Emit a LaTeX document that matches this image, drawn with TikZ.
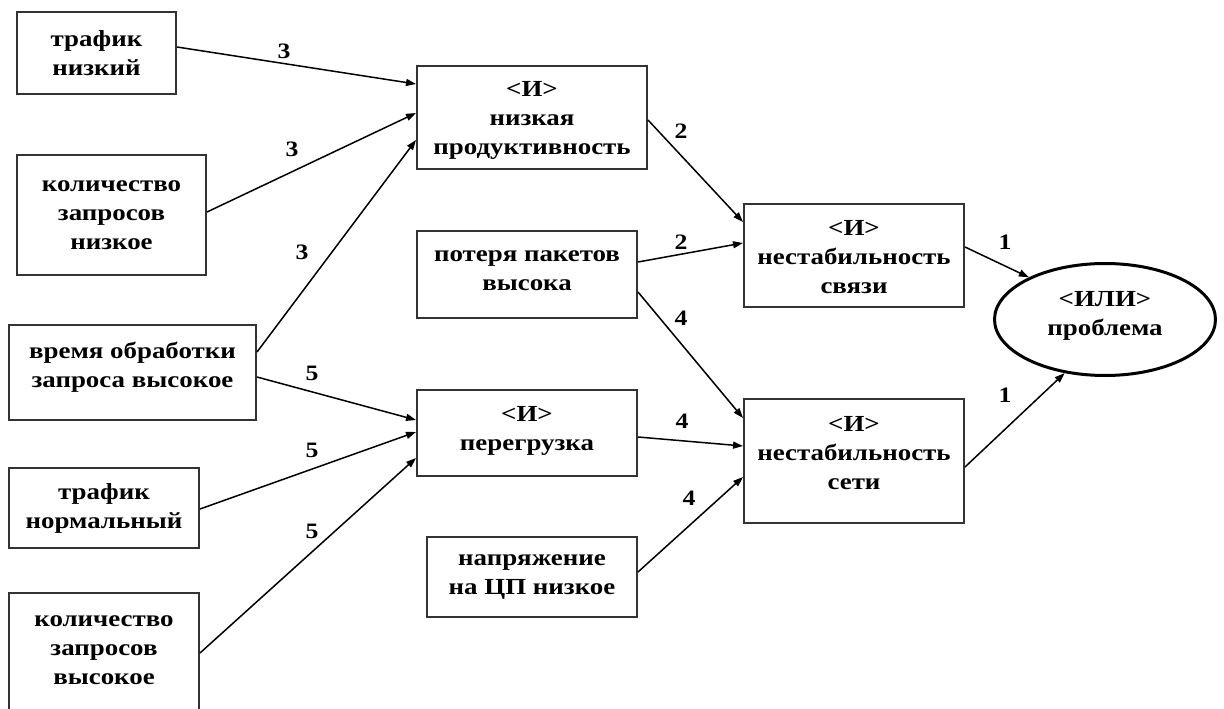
\documentclass[tikz,border=0pt]{standalone}
\usepackage{fontspec}
\setmainfont{Liberation Serif}[FakeStretch=1.17]
\usetikzlibrary{arrows.meta,shapes.geometric}
\begin{document}
\begin{tikzpicture}[x=1pt,y=-1pt,
  box/.style={draw=black!80, line width=2pt, inner sep=0pt},
  wh/.style 2 args={minimum width=#1pt, minimum height=#2pt},
  txt/.style={align=center, inner sep=0pt, font=\fontsize{23}{29}\selectfont\bfseries},
  num/.style={inner sep=0pt, font=\fontsize{22}{26}\selectfont\bfseries},
  link/.style={line width=1.5pt, -{Triangle[length=10pt,width=7pt]}}]
\useasboundingbox (0,0) rectangle (1224,709);

% input facts (left column)
\node[box, wh={159}{82}]  (b1) at (96.5,53) {};
\node[box, wh={189}{120}] (b2) at (111.5,215) {};
\node[box, wh={247}{95}]  (b3) at (132.5,372.5) {};
\node[box, wh={190}{80}]  (b4) at (104,508) {};
\node[box, wh={190}{122}] (b5) at (104,654) {};
% middle column
\node[box, wh={230}{103}] (b6) at (532,117.5) {};
\node[box, wh={220}{87}]  (b7) at (527,274.5) {};
\node[box, wh={220}{86}]  (b9) at (527,433) {};
\node[box, wh={210}{80}]  (b11) at (532,577) {};
% right column
\node[box, wh={220}{103}] (b8) at (854,255.5) {};
\node[box, wh={220}{124}] (b10) at (854,461) {};
\node[draw=black, line width=3pt, ellipse, wh={221}{112}, inner sep=0pt] (e) at (1105,319.5) {};

% box texts
\node[txt] (t1) at (b1.center) {трафик\\низкий};
\node[txt] (t2) at (b2.center) {количество\\запросов\\низкое};
\node[txt] (t3) at (132.5,367) {время обработки\\запроса высокое};
\node[txt] (t4) at (b4.center) {трафик\\нормальный};
\node[txt] (t5) at (104,650) {количество\\запросов\\высокое};
\node[txt] (t6) at (532,120.5) {<И>\\низкая\\продуктивность};
\node[txt] (t7) at (527,271) {потеря пакетов\\высока};
\node[txt] (t9) at (527,431) {<И>\\перегрузка};
\node[txt] (t11) at (b11.center) {напряжение\\на ЦП низкое};
\node[txt] (t8) at (854,257) {<И>\\нестабильность\\связи};
\node[txt] (t10) at (854,453) {<И>\\нестабильность\\сети};
\node[txt] (t12) at (1105,316) {<ИЛИ>\\проблема};

% connectors
\draw[link] ([yshift=6pt]b1.east) -- ([yshift=33.5pt]b6.west);
\draw[link] ([yshift=3pt]b2.east) -- ([yshift=4.5pt]b6.west);
\draw[link] ([yshift=20.5pt]b3.east) -- ([yshift=-22.5pt]b6.west);
\draw[link] ([yshift=-4.5pt]b3.east) -- ([yshift=13pt]b9.west);
\draw[link] ([yshift=-1pt]b4.east) -- ([yshift=1pt]b9.west);
\draw[link] ([yshift=1pt]b5.east) -- ([yshift=-25pt]b9.west);
\draw[link] ([yshift=-2.5pt]b6.east) -- ([yshift=33.5pt]b8.west);
\draw[link] ([yshift=12.5pt]b7.east) -- ([yshift=12.5pt]b8.west);
\draw[link] ([yshift=-17.5pt]b7.east) -- ([yshift=43pt]b10.west);
\draw[link] ([yshift=-4pt]b9.east) -- ([yshift=15pt]b10.west);
\draw[link] ([yshift=5pt]b11.east) -- ([yshift=-16pt]b10.west);
\draw[link] ([yshift=8.5pt]b8.east) -- (e.151);
\draw[link] ([yshift=-6pt]b10.east) -- (e.233);

% weights
\node[num] (l1) at (284,51) {3};
\node[num] (l2) at (292,149) {3};
\node[num] (l3) at (302,252) {3};
\node[num] (l4) at (312,373) {5};
\node[num] (l5) at (312,450) {5};
\node[num] (l6) at (312,531) {5};
\node[num] (l7) at (681,131) {2};
\node[num] (l8) at (681,242) {2};
\node[num] (l9) at (681,318) {4};
\node[num] (l10) at (682,421) {4};
\node[num] (l11) at (689,498) {4};
\node[num] (l12) at (1005,242) {1};
\node[num] (l13) at (1005,395) {1};
\end{tikzpicture}
\end{document}
